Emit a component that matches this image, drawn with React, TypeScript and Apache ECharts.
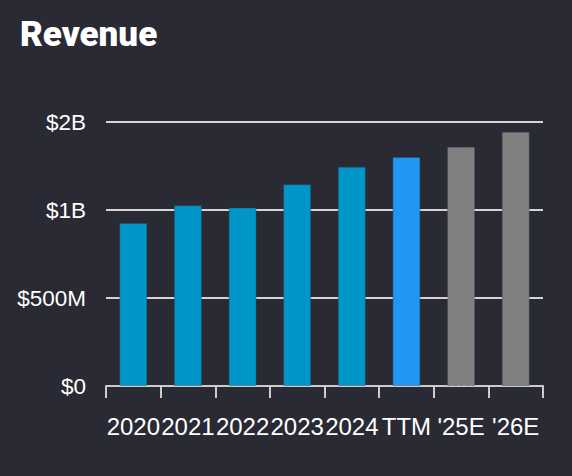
import React, { useEffect, useRef } from "react";
import * as echarts from "echarts";

const categories = ["2020", "2021", "2022", "2023", "2024", "TTM", "'25E", "'26E"];
const revenue = [0.926e9, 1.027e9, 1.014e9, 1.146e9, 1.246e9, 1.301e9, 1.36e9, 1.445e9];
const barKinds = ["actual", "actual", "actual", "actual", "actual", "ttm", "estimate", "estimate"];
const yTickValues = [0, 0.5e9, 1e9, 1.5e9];
const yTickLabels = ["$0", "$500M", "$1B", "$2B"];

const kindColor: Record<string, string> = {
  actual: "#0096c8",
  ttm: "#2196f3",
  estimate: "#808080",
};

export default function App() {
  const ref = useRef<HTMLDivElement>(null);
  useEffect(() => {
    if (!ref.current) return;
    const chart = echarts.init(ref.current, undefined, { renderer: "svg" });
    const font = "'Liberation Sans', Arial, Helvetica, sans-serif";
    chart.setOption({
      animation: false,
      backgroundColor: "#292a33",
      title: {
        text: "Revenue",
        left: 15,
        top: 12,
        textStyle: {
          color: "#ffffff",
          fontFamily: "Roboto, 'Noto Sans', sans-serif",
          fontWeight: 900,
          fontSize: 35,
        },
      },
      grid: { left: 106, right: 29, top: 122, bottom: 90 },
      xAxis: {
        type: "category",
        data: categories,
        axisLine: { lineStyle: { color: "#cccccc", width: 2 } },
        axisTick: { show: true, length: 12, lineStyle: { color: "#cccccc", width: 2 } },
        axisLabel: {
          color: "#ffffff",
          fontFamily: font,
          fontSize: 24,
          margin: 28,
          interval: 0,
        },
      },
      yAxis: {
        type: "value",
        min: 0,
        max: 1.5e9,
        interval: 0.5e9,
        axisLine: { show: false },
        axisTick: { show: false },
        splitLine: { lineStyle: { color: "#d4d4d4", width: 2 } },
        axisLabel: {
          color: "#ffffff",
          fontFamily: font,
          fontSize: 22.5,
          margin: 20,
          formatter: (v: number) => {
            const i = yTickValues.findIndex((t) => Math.abs(t - v) < 1);
            return i >= 0 ? yTickLabels[i] : "";
          },
        },
      },
      series: [
        {
          type: "bar",
          barWidth: 28,
          data: revenue.map((v, i) => ({
            value: v,
            itemStyle: {
              color: kindColor[barKinds[i]],
              borderColor: "rgba(50,70,90,0.4)",
              borderWidth: 1,
              borderType: i === 6 ? "dashed" : "solid",
            },
          })),
        },
      ],
    });
    return () => chart.dispose();
  }, []);
  return (
    <div
      ref={ref}
      style={{ position: "fixed", left: 0, top: 0, width: 572, height: 476 }}
    />
  );
}
